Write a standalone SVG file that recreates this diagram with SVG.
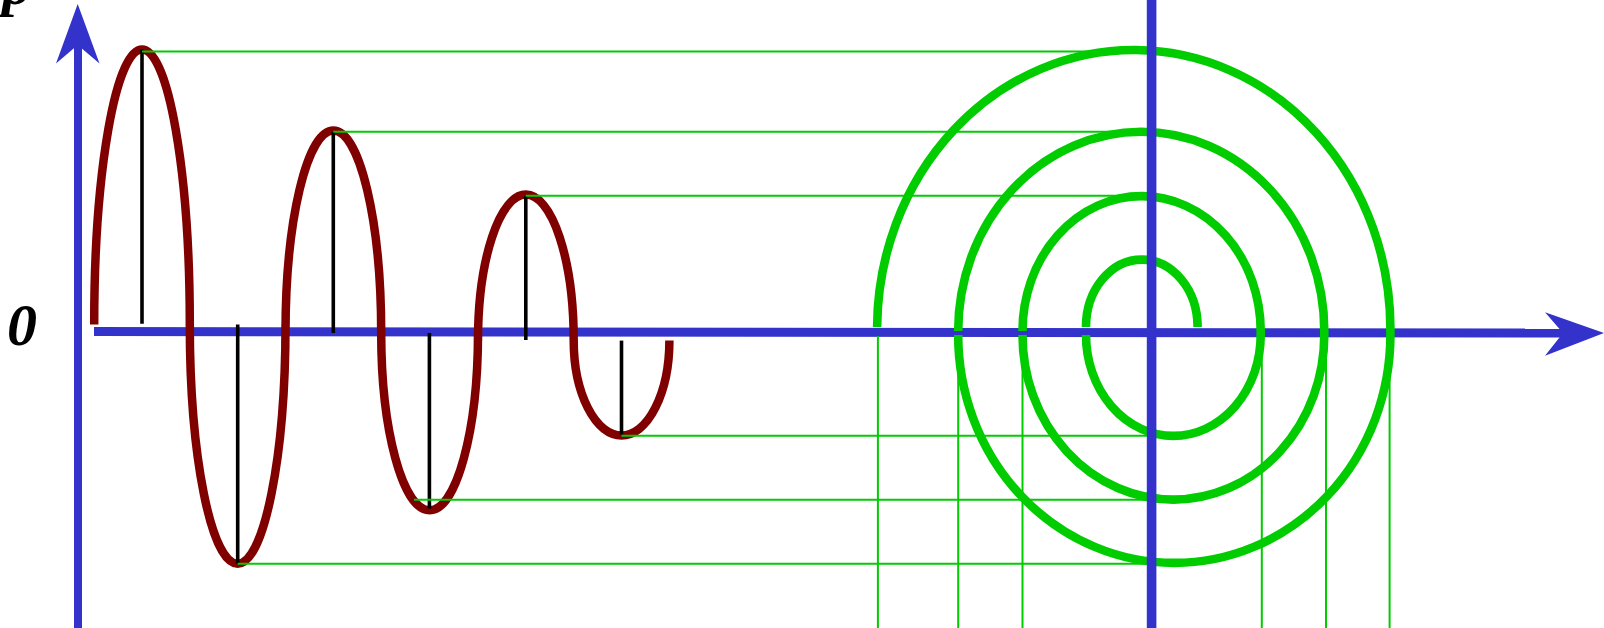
<svg xmlns="http://www.w3.org/2000/svg" width="1604" height="628" viewBox="0 0 1604 628">
<style>
.ax{stroke:#3333cc;fill:none}
.axh{fill:#3333cc;stroke:none}
.wave{stroke:#800000;stroke-width:8.5;fill:none;stroke-linecap:butt;stroke-linejoin:round}
.stem{stroke:#000;stroke-width:3.6;fill:none}
.thin{stroke:#00cc00;stroke-width:2;fill:none}
.spiral{stroke:#00cc00;stroke-width:8.6;fill:none;stroke-linecap:butt;stroke-linejoin:round}
.lbl{font-family:"Liberation Serif","Times New Roman",serif;font-weight:bold;font-style:italic;font-size:60px;fill:#000}
</style>
<rect width="1604" height="628" fill="#fff"/>
<g id="axes-left">
<line class="ax" x1="78" y1="40" x2="78" y2="628" stroke-width="8"/>
<polygon class="axh" points="77.7,4 99.5,63.5 77.7,45 56,63.5"/>
<line class="ax" x1="94" y1="331.5" x2="1566" y2="333" stroke-width="9"/>
<polygon class="axh" points="1604,333 1545,312.3 1563,333 1545,355.7"/>
</g>
<g id="labels">
<text class="lbl" x="2" y="4">p</text>
<text class="lbl" x="7" y="345">0</text>
</g>
<g id="wave">
<path class="wave" d="M94.2,324.4 A47.8,274.8 0 0 1 189.8,324.4 A47.85,239.3 0 0 0 285.5,324.4 L285.5,333 A47.85,202.5 0 0 1 381.2,333 A48.4,177.4 0 0 0 478,333 L478,340.5 A47.85,145.9 0 0 1 573.7,340.5 A47.85,95 0 0 0 669.4,340.5"/>
</g>
<g id="stems">
<line class="stem" x1="142" y1="49.6" x2="142" y2="323.7"/>
<line class="stem" x1="237.7" y1="324.4" x2="237.7" y2="563.7"/>
<line class="stem" x1="333.3" y1="132" x2="333.3" y2="333"/>
<line class="stem" x1="429.4" y1="333" x2="429.4" y2="508.6"/>
<line class="stem" x1="525.8" y1="196.3" x2="525.8" y2="340"/>
<line class="stem" x1="621.5" y1="340.6" x2="621.5" y2="434.6"/>
</g>
<g id="spiral">
<path class="spiral" d="M1197.6,327 A55.8,67.4 0 0 0 1086,327 M1086,335 A87.35,101 0 0 0 1260.7,335 L1260.7,331 A119.1,135 0 0 0 1022.5,331 M1022.5,335 A150.9,164.6 0 0 0 1324.3,335 L1324.3,331 A183.05,199.2 0 0 0 958.2,331 M958.2,335 A216.1,227.9 0 0 0 1390.4,335 L1390.4,331 A256.65,279 0 0 0 877.1,327"/>
</g>
<g id="connectors">
<line class="thin" x1="142" y1="51.5" x2="1133" y2="51.5"/>
<line class="thin" x1="333.3" y1="131.8" x2="1141" y2="131.8"/>
<line class="thin" x1="525.8" y1="195.8" x2="1142" y2="195.8"/>
<line class="thin" x1="621.5" y1="435.8" x2="1174" y2="435.8"/>
<line class="thin" x1="414" y1="499.8" x2="1174" y2="499.8"/>
<line class="thin" x1="237.7" y1="563.8" x2="1174" y2="563.8"/>
<line class="thin" x1="877.9" y1="336" x2="877.9" y2="628"/>
<line class="thin" x1="958.2" y1="336" x2="958.2" y2="628"/>
<line class="thin" x1="1022.5" y1="336" x2="1022.5" y2="628"/>
<line class="thin" x1="1261.8" y1="336" x2="1261.8" y2="628"/>
<line class="thin" x1="1326" y1="336" x2="1326" y2="628"/>
<line class="thin" x1="1389.6" y1="336" x2="1389.6" y2="628"/>
</g>
<g id="axis-right">
<line class="ax" x1="1151.6" y1="0" x2="1151.6" y2="628" stroke-width="9.6"/>
</g>
</svg>
